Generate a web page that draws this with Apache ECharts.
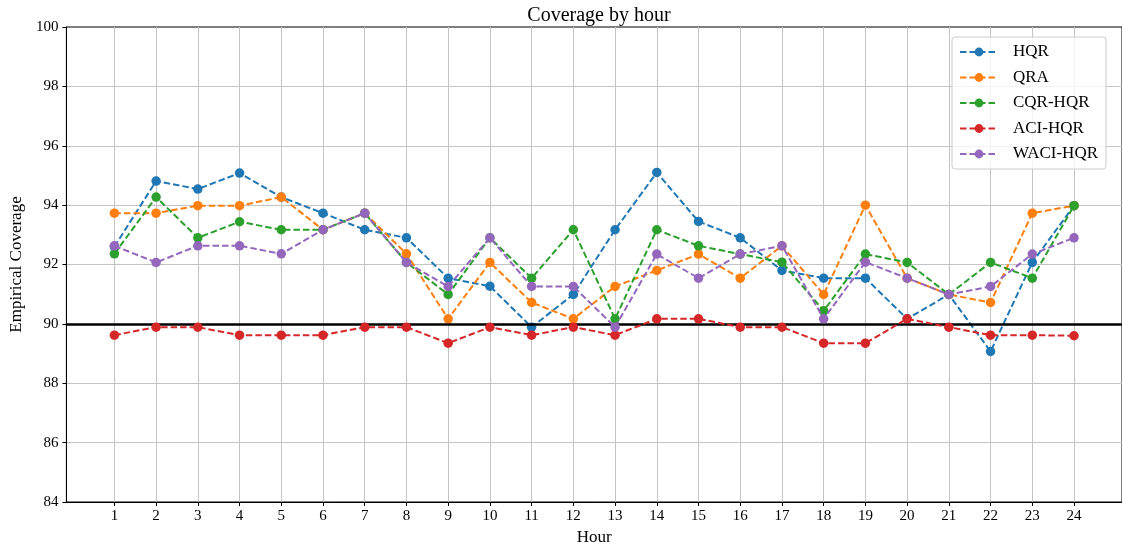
<!DOCTYPE html>
<html>
<head>
<meta charset="utf-8">
<script src="https://cdn.jsdelivr.net/npm/echarts@6/dist/echarts.min.js"></script>
<style>
html,body{margin:0;padding:0;background:#fff;}
#chart{width:1122px;height:552px;}
</style>
</head>
<body>
<div id="chart"></div>
<script>
const hours = [1,2,3,4,5,6,7,8,9,10,11,12,13,14,15,16,17,18,19,20,21,22,23,24];
const yTicks = [84,86,88,90,92,94,96,98,100];
const seriesNames = ['HQR','QRA','CQR-HQR','ACI-HQR','WACI-HQR'];
const hqr  = [92.6,94.81,94.54,95.08,94.27,93.73,93.17,92.9,91.54,91.27,89.89,90.99,93.17,95.1,93.45,92.9,91.8,91.54,91.54,90.17,90.99,89.07,92.07,93.98];
const qra  = [93.73,93.73,93.98,93.98,94.27,93.17,93.73,92.36,90.17,92.07,90.72,90.17,91.26,91.8,92.35,91.54,92.63,90.99,94.0,91.54,90.99,90.72,93.73,93.98];
const cqr  = [92.36,94.27,92.9,93.44,93.17,93.17,93.73,92.07,90.99,92.9,91.54,93.17,90.17,93.17,92.63,92.35,92.08,90.44,92.35,92.07,90.99,92.07,91.54,93.98];
const aci  = [89.62,89.89,89.89,89.62,89.62,89.62,89.89,89.89,89.35,89.89,89.62,89.89,89.62,90.17,90.17,89.89,89.89,89.35,89.35,90.17,89.89,89.62,89.62,89.6];
const waci = [92.63,92.07,92.63,92.63,92.36,93.17,93.73,92.07,91.26,92.9,91.26,91.26,89.89,92.35,91.54,92.35,92.63,90.17,92.08,91.54,90.99,91.26,92.35,92.9];
const targetLevel = 90;
const colors = ['#1f77b4','#ff7f0e','#2ca02c','#d62728','#9467bd'];
const allValues = [hqr, qra, cqr, aci, waci];

const FONT = 'Liberation Serif';
const chart = echarts.init(document.getElementById('chart'), null, {renderer:'canvas'});

const series = allValues.map((vals, i) => ({
  name: seriesNames[i],
  type: 'line',
  data: hours.map((h, j) => [h, vals[j]]),
  symbol: 'circle',
  symbolSize: 9.5,
  showSymbol: true,
  animation: false,
  itemStyle: {color: colors[i]},
  lineStyle: {color: colors[i], width: 2, type: [6.5, 3]},
  emphasis: {disabled: true},
  z: 3 + i
}));
series.push({
  name: 'target',
  type: 'line',
  data: [],
  animation: false,
  markLine: {
    silent: true,
    symbol: ['none','none'],
    label: {show: false},
    lineStyle: {color: '#000', width: 2.5, type: 'solid'},
    data: [{yAxis: targetLevel}],
    animation: false
  },
  z: 2
});

chart.setOption({
  animation: false,
  backgroundColor: '#fff',
  color: colors,
  title: {
    text: 'Coverage by hour',
    left: 594, top: 1, textAlign: 'center',
    textStyle: {fontFamily: FONT, fontSize: 20, fontWeight: 'normal', color: '#000'}
  },
  grid: {
    left: 64, top: 27, width: 1060, height: 475,
    show: true, borderColor: '#000', borderWidth: 1, backgroundColor: '#fff',
    containLabel: false
  },
  legend: {
    data: seriesNames,
    orient: 'vertical',
    left: 952, top: 37,
    padding: [6, 8, 6, 7],
    itemWidth: 38, itemHeight: 11,
    itemGap: 7.5,
    backgroundColor: 'rgba(255,255,255,0.8)',
    borderColor: '#cccccc', borderWidth: 1, borderRadius: 3,
    textStyle: {fontFamily: FONT, fontSize: 17, color: '#000', lineHeight: 18, padding: [0,0,0,10]}
  },
  xAxis: {
    type: 'value',
    min: -0.15, max: 25.15,
    name: 'Hour', nameLocation: 'middle', nameGap: 27,
    nameTextStyle: {fontFamily: FONT, fontSize: 17, color: '#000'},
    axisLine: {show: true, onZero: false, lineStyle: {color: '#000', width: 1}},
    axisTick: {show: true, length: 4, lineStyle: {color: '#000'}, customValues: hours},
    axisLabel: {fontFamily: FONT, fontSize: 15, color: '#000', margin: 7, customValues: hours},
    splitLine: {show: true, lineStyle: {color: '#c4c4c4', width: 1}}
  },
  yAxis: {
    type: 'value',
    min: yTicks[0], max: yTicks[yTicks.length-1], interval: 2,
    name: 'Empirical Coverage', nameLocation: 'middle', nameGap: 39,
    nameTextStyle: {fontFamily: FONT, fontSize: 17, color: '#000'},
    axisLine: {show: true, onZero: false, lineStyle: {color: '#000', width: 1}},
    axisTick: {show: true, length: 4, lineStyle: {color: '#000'}},
    axisLabel: {fontFamily: FONT, fontSize: 15, color: '#000', margin: 8},
    splitLine: {show: true, showMinLine: false, showMaxLine: false, lineStyle: {color: '#c4c4c4', width: 1}}
  },
  series: series
});
</script>
</body>
</html>
